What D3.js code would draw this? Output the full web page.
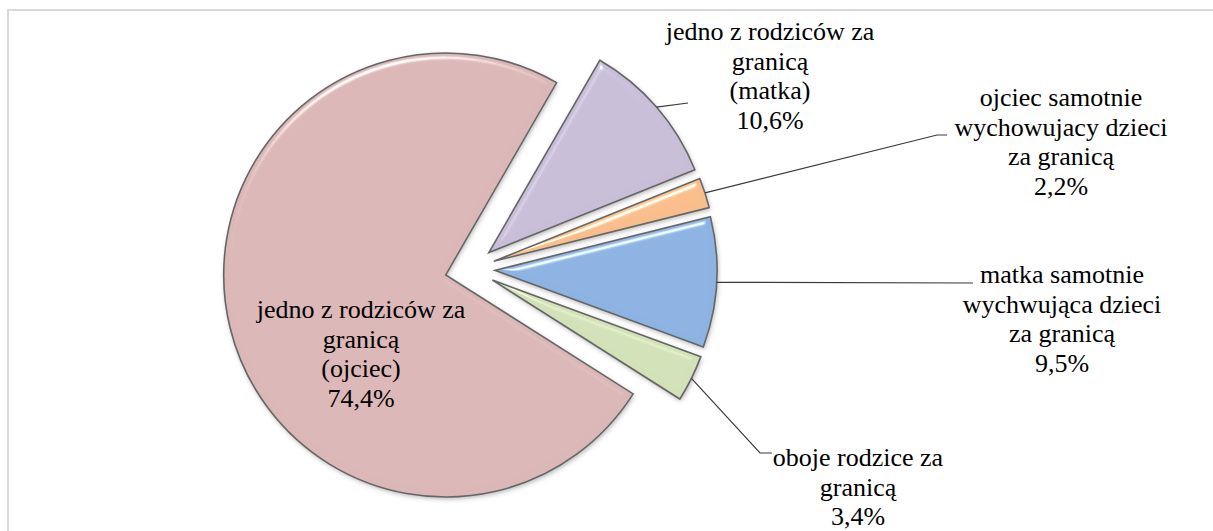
<!DOCTYPE html>
<html>
<head>
<meta charset="utf-8">
<script src="https://cdn.jsdelivr.net/npm/d3@7"></script>
</head>
<body style="margin:0">
<div id="chart" style="position:relative;width:1213px;height:531px"></div>
<script>
// -------------------------------------------------------------------------
// Data
const categories = [
  'jedno z rodziców za granicą (ojciec)',
  'jedno z rodziców za granicą (matka)',
  'ojciec samotnie wychowujacy dzieci za granicą',
  'matka samotnie wychwująca dzieci za granicą',
  'oboje rodzice za granicą'
];

const values = [74.4, 10.6, 2.2, 9.5, 3.4];

// label text, broken into lines as in the original
const labelLines = [
  ['jedno z rodziców za', 'granicą', '(ojciec)'],
  ['jedno z rodziców za', 'granicą', '(matka)'],
  ['ojciec samotnie', 'wychowujacy dzieci', 'za granicą'],
  ['matka samotnie', 'wychwująca dzieci', 'za granicą'],
  ['oboje rodzice za', 'granicą']
];

const colors = ['#DBB7B7', '#C9BED8', '#F9BE8C', '#8DB3E2', '#D3E1B8'];

// -------------------------------------------------------------------------
// Layout
const width = 1213;
const height = 531;
const center = { x: 470, y: 269 };
const radius = 222;
const explode = 25;
const firstSliceAngle = 122.4; // degrees, clockwise from 12 o'clock
const lineHeight = 29.5;

/**
 * label anchor (centre x, first baseline) and leader line points for each slice;
 * a null leader means the label sits inside the slice
 */
const labelLayout = [
  { x: 361, y: 318, leader: null },
  { x: 770, y: 40, leader: [[688, 103]] },
  { x: 1061, y: 106, leader: [[937, 135], [947, 135]] },
  { x: 1062, y: 283, leader: [[973, 283]] },
  { x: 858, y: 466, leader: [[760, 453], [772, 453]] }
];

// slices go in one svg, labels in a second one laid over it
const svg = d3
  .select('#chart')
  .append('svg')
  .attr('width', width)
  .attr('height', height)
  .style('position', 'absolute')
  .style('left', '0px')
  .style('top', '0px');

const labelSvg = d3
  .select('#chart')
  .append('svg')
  .attr('width', width)
  .attr('height', height)
  .style('position', 'absolute')
  .style('left', '0px')
  .style('top', '0px');

/**
 * Function to build the bevel + shadow filter
 */
function addFilters() {
  const defs = svg.append('defs');
  const filter = defs
    .append('filter')
    .attr('id', 'bevel')
    .attr('x', '-10%')
    .attr('y', '-10%')
    .attr('width', '120%')
    .attr('height', '120%');
  filter
    .append('feGaussianBlur')
    .attr('in', 'SourceAlpha')
    .attr('stdDeviation', 2.5)
    .attr('result', 'shBlur');
  filter
    .append('feOffset')
    .attr('in', 'shBlur')
    .attr('dx', 1)
    .attr('dy', 2)
    .attr('result', 'shOff');
  filter
    .append('feFlood')
    .attr('flood-color', '#000')
    .attr('flood-opacity', 0.3);
  filter
    .append('feComposite')
    .attr('in2', 'shOff')
    .attr('operator', 'in')
    .attr('result', 'shadow');
  filter
    .append('feGaussianBlur')
    .attr('in', 'SourceAlpha')
    .attr('stdDeviation', 3)
    .attr('result', 'bump');
  const spec = filter
    .append('feSpecularLighting')
    .attr('in', 'bump')
    .attr('surfaceScale', 4)
    .attr('specularConstant', 0.9)
    .attr('specularExponent', 60)
    .attr('lighting-color', '#ffffff')
    .attr('result', 'spec');
  spec
    .append('feDistantLight')
    .attr('azimuth', 250)
    .attr('elevation', 45);
  filter
    .append('feComposite')
    .attr('in', 'spec')
    .attr('in2', 'SourceAlpha')
    .attr('operator', 'in')
    .attr('result', 'specIn');
  filter
    .append('feComposite')
    .attr('in', 'SourceGraphic')
    .attr('in2', 'specIn')
    .attr('operator', 'arithmetic')
    .attr('k1', 0)
    .attr('k2', 1)
    .attr('k3', 0.8)
    .attr('k4', 0)
    .attr('result', 'lit');
  const merge = filter.append('feMerge');
  merge.append('feMergeNode').attr('in', 'shadow');
  merge.append('feMergeNode').attr('in', 'lit');
}

/**
 * Function to draw the chart frame
 */
function drawFrame() {
  svg
    .append('rect')
    .attr('x', 8)
    .attr('y', 10)
    .attr('width', width)
    .attr('height', height)
    .attr('fill', 'none')
    .attr('stroke', '#d9d9d9')
    .attr('stroke-width', 2);
}

/**
 * offset of an exploded slice along its bisector
 */
function sliceOffset(d) {
  const mid = (d.startAngle + d.endAngle) / 2;
  return {
    x: center.x + explode * Math.sin(mid),
    y: center.y - explode * Math.cos(mid)
  };
}

/**
 * Function to draw slices
 */
function drawSlices(arcs) {
  const arc = d3
    .arc()
    .innerRadius(0)
    .outerRadius(radius);
  const group = svg
    .selectAll('.slice')
    .data(arcs)
    .enter()
    .append('g')
    .attr('class', 'slice')
    .attr('transform', d => {
      const o = sliceOffset(d);
      return `translate(${o.x},${o.y})`;
    });
  group
    .append('path')
    .attr('d', arc)
    .attr('fill', (d, i) => colors[i])
    .attr('filter', 'url(#bevel)');
  group
    .append('path')
    .attr('d', arc)
    .attr('fill', 'none')
    .attr('stroke', '#666')
    .attr('stroke-width', 1.6)
    .attr('stroke-linejoin', 'miter');
}

/**
 * Function to draw labels and leader lines
 */
function drawLabels(arcs) {
  const format = v => d3.format('.1f')(v).replace('.', ',') + '%';
  arcs.forEach((d, i) => {
    const layout = labelLayout[i];
    if (layout.leader) {
      const o = sliceOffset(d);
      const mid = (d.startAngle + d.endAngle) / 2;
      const start = [o.x + radius * Math.sin(mid), o.y - radius * Math.cos(mid)];
      labelSvg
        .append('path')
        .attr('d', d3.line()([start].concat(layout.leader)))
        .attr('fill', 'none')
        .attr('stroke', '#3a3a3a')
        .attr('stroke-width', 1.2);
    }
    labelLines[i].concat([format(values[i])]).forEach((line, j) => {
      labelSvg
        .append('text')
        .attr('x', layout.x)
        .attr('y', layout.y + j * lineHeight)
        .attr('font-size', 26)
        .attr('text-anchor', 'middle')
        .style('font-family', '"Liberation Serif"')
        .text(line);
    });
  });
}

addFilters();
drawFrame();

const startRad = (firstSliceAngle * Math.PI) / 180;
const pie = d3
  .pie()
  .sort(null)
  .startAngle(startRad)
  .endAngle(startRad + 2 * Math.PI);
const arcs = pie(values);

drawSlices(arcs);
drawLabels(arcs);
</script>
</body>
</html>
